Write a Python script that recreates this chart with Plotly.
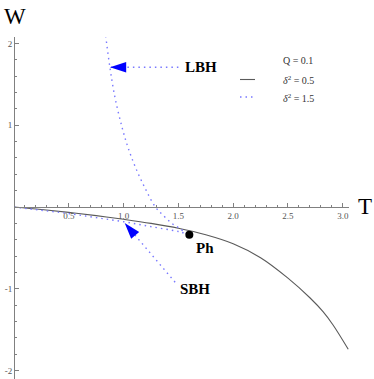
import plotly.graph_objects as go

# W(T) for Q = 0.1
# delta^2 = 0.5 (solid curve)
t_solid = [0, 0.25, 0.5, 0.75, 1.0, 1.25, 1.5, 1.75, 2.0, 2.25, 2.5, 2.7, 2.82, 2.91, 3.05]
w_solid = [0, -0.03, -0.065, -0.105, -0.15, -0.2, -0.26, -0.34, -0.45, -0.62, -0.87, -1.11, -1.28, -1.44, -1.74]

# delta^2 = 1.5 (dotted curve), small BH branch up to the cusp, then large BH branch
t_sbh = [0, 0.25, 0.5, 0.75, 1.0, 1.25, 1.5, 1.58]
w_sbh = [0, -0.04, -0.08, -0.13, -0.18, -0.24, -0.30, -0.33]
t_lbh = [1.58, 1.51, 1.44, 1.36, 1.29, 1.2, 1.11, 1.04, 0.985, 0.92, 0.875, 0.838]
w_lbh = [-0.33, -0.26, -0.2, -0.1, 0.0, 0.22, 0.48, 0.73, 0.98, 1.35, 1.71, 2.08]

# phase transition point
t_ph = [1.60]
w_ph = [-0.34]

# arrows (tail -> tip)
arrow_lbh_t = [1.50, 0.876]
arrow_lbh_w = [1.71, 1.71]
arrow_sbh_t = [1.47, 1.01]
arrow_sbh_w = [-0.92, -0.196]

# text labels
label_text = ["LBH", "SBH", "Ph"]
label_t = [1.71, 1.65, 1.74]
label_w = [1.71, -1.0, -0.5]

x_ticks = [0.5, 1.0, 1.5, 2.0, 2.5, 3.0]
x_ticklabels = ["0.5", "1.0", "1.5", "2.0", "2.5", "3.0"]
y_ticks = [-2, -1, 1, 2]
y_ticklabels = ["-2", "-1", "1", "2"]

legend_title = "Q = 0.1"
legend_names = ["<i>δ</i><sup>2</sup> = 0.5", "<i>δ</i><sup>2</sup> = 1.5"]

W, H = 374, 379
SERIF = "Liberation Serif"
BLUE_DOT = "rgb(120,120,255)"
AXIS = "#808080"
dots = "1.5px,4px"


def px_x(p):
    return p / W


def px_y(p):
    return 1 - p / H


def paper_text(x, y, text, size, color="black", xanchor="center"):
    fig.add_annotation(x=px_x(x), y=px_y(y), xref="paper", yref="paper", text=text,
                       xanchor=xanchor, yanchor="middle", showarrow=False,
                       font=dict(family=SERIF, size=size, color=color))


fig = go.Figure()

fig.add_trace(go.Scatter(x=t_solid, y=w_solid, mode="lines",
                         line=dict(color="#5a5a5a", width=1.1, shape="spline")))
fig.add_trace(go.Scatter(x=t_sbh, y=w_sbh, mode="lines",
                         line=dict(color=BLUE_DOT, width=1.4, dash=dots, shape="spline")))
fig.add_trace(go.Scatter(x=t_lbh, y=w_lbh, mode="lines",
                         line=dict(color=BLUE_DOT, width=1.4, dash=dots, shape="spline")))

# arrows: dotted shaft + solid arrowhead at the tip
for at, aw in [(arrow_lbh_t, arrow_lbh_w), (arrow_sbh_t, arrow_sbh_w)]:
    fig.add_trace(go.Scatter(x=at, y=aw, mode="lines+markers",
                             line=dict(color=BLUE_DOT, width=1.4, dash=dots),
                             marker=dict(symbol="arrow", size=[0, 17], color="#0000ff",
                                         opacity=1, angleref="previous", line=dict(width=0))))

fig.add_trace(go.Scatter(x=t_ph, y=w_ph, mode="markers",
                         marker=dict(color="black", size=8)))

for txt, tx, ty in zip(label_text, label_t, label_w):
    fig.add_annotation(x=tx, y=ty, text="<b>" + txt + "</b>", showarrow=False,
                       xanchor="center", yanchor="middle",
                       font=dict(family=SERIF, size=15, color="black"))

# axis names
paper_text(15, 16, "W", 23)
paper_text(365, 206, "T", 23)

# legend
paper_text(281, 61, legend_title, 10, "#333", "left")
fig.add_shape(type="line", xref="paper", yref="paper", x0=px_x(240), x1=px_x(255),
              y0=px_y(79.5), y1=px_y(79.5), line=dict(color="#5a5a5a", width=1.1))
paper_text(281, 80, legend_names[0], 10, "#333", "left")
fig.add_shape(type="line", xref="paper", yref="paper", x0=px_x(240), x1=px_x(253),
              y0=px_y(97), y1=px_y(97), line=dict(color=BLUE_DOT, width=1.4, dash=dots))
paper_text(281, 98, legend_names[1], 10, "#333", "left")

tickfont = dict(family=SERIF, size=9, color="#555555")
fig.update_layout(
    width=W, height=H,
    margin=dict(l=0, r=0, t=0, b=0),
    paper_bgcolor="white", plot_bgcolor="white",
    showlegend=False,
    xaxis=dict(domain=[px_x(14), px_x(349)], range=[0, 3.057],
               anchor="free", position=px_y(207),
               showline=True, linecolor=AXIS, linewidth=1,
               showgrid=False, zeroline=False,
               tickmode="array", tickvals=x_ticks, ticktext=x_ticklabels,
               ticks="inside", ticklen=4, tickcolor=AXIS, tickfont=tickfont,
               minor=dict(tickmode="linear", tick0=0, dtick=0.1, ticks="inside",
                          ticklen=2, tickcolor=AXIS, showgrid=False),
               automargin=False),
    yaxis=dict(domain=[0, px_y(37)], range=[-2.104, 2.08],
               anchor="free", position=px_x(14),
               showline=True, linecolor=AXIS, linewidth=1,
               showgrid=False, zeroline=False,
               tickmode="array", tickvals=y_ticks, ticktext=y_ticklabels,
               ticks="inside", ticklen=4, tickcolor=AXIS, tickfont=tickfont,
               minor=dict(tickmode="linear", tick0=0, dtick=0.2, ticks="inside",
                          ticklen=2, tickcolor=AXIS, showgrid=False),
               automargin=False),
)

fig.write_html("out.html", config={"displayModeBar": False},
               post_script="document.body.style.margin='0';")
